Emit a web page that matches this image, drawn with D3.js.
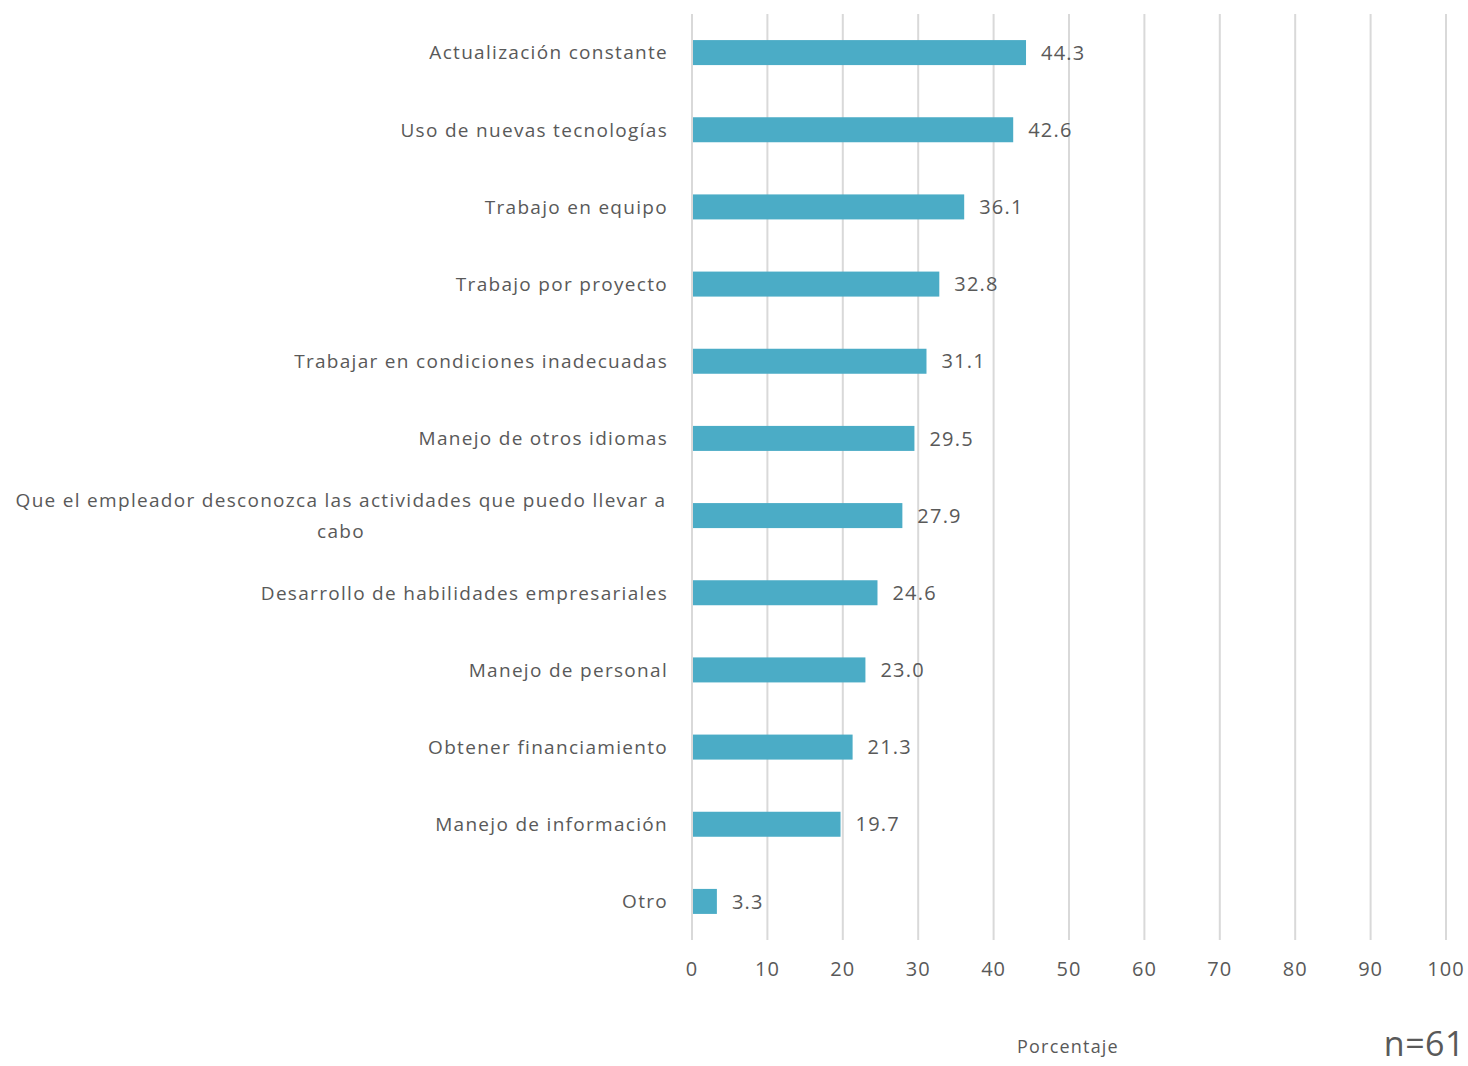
<!DOCTYPE html>
<html><head><meta charset="utf-8">
<script src="https://cdn.jsdelivr.net/npm/d3@7"></script>
<style>body{margin:0;background:#fff}svg{display:block}text{font-family:"Open Sans",sans-serif;fill:#595959}</style>
</head><body><svg id="c" width="1468" height="1066"></svg>
<script>
const categories = ["Actualización constante","Uso de nuevas tecnologías","Trabajo en equipo","Trabajo por proyecto","Trabajar en condiciones inadecuadas","Manejo de otros idiomas","Que el empleador desconozca las actividades que puedo llevar a cabo","Desarrollo de habilidades empresariales","Manejo de personal","Obtener financiamiento","Manejo de información","Otro"];
const values = [44.3,42.6,36.1,32.8,31.1,29.5,27.9,24.6,23.0,21.3,19.7,3.3];
const ticks = [0,10,20,30,40,50,60,70,80,90,100];
const axisTitle = "Porcentaje";
const note = "n=61";

const svg = d3.select("#c");
const x = d3.scaleLinear().domain([0,100]).range([692,1446]);
const y = d3.scaleBand().domain(categories).range([14,940]).paddingInner(0.676).paddingOuter(0.338);

svg.append("g").selectAll("line").data(ticks).join("line")
  .attr("x1",d=>x(d)).attr("x2",d=>x(d)).attr("y1",14).attr("y2",940)
  .attr("stroke","#d9d9d9").attr("stroke-width",2);

svg.append("g").selectAll("rect").data(values).join("rect")
  .attr("x",x(0)+1).attr("y",(d,i)=>y(categories[i]))
  .attr("width",d=>x(d)-x(0)-1).attr("height",y.bandwidth())
  .attr("fill","#4bacc6");

svg.append("g").selectAll("text").data(values).join("text")
  .attr("x",d=>x(d)+15).attr("y",(d,i)=>y(categories[i])+y.bandwidth()/2)
  .attr("dy","0.36em").attr("font-size",20).attr("letter-spacing",1.2).text(d=>d.toFixed(1));

svg.append("g").selectAll("text").data(ticks).join("text")
  .attr("x",d=>x(d)).attr("y",969).attr("dy","0.36em").attr("text-anchor","middle")
  .attr("font-size",20).attr("letter-spacing",1).text(d=>d);

const labG = svg.append("g");
const maxW = 655, right = 668;
categories.forEach(c=>{
  const cy = y(c)+y.bandwidth()/2;
  const t = labG.append("text").attr("font-size",19).attr("letter-spacing",1.3).attr("text-anchor","end").attr("x",right).attr("y",cy).attr("dy","0.36em").text(c);
  if (t.node().getComputedTextLength() > maxW) {
    const words = c.split(" ");
    let lines=[], cur="";
    words.forEach(w=>{
      const test = cur?cur+" "+w:w;
      t.text(test);
      if (t.node().getComputedTextLength()>maxW && cur){lines.push(cur);cur=w;} else cur=test;
    });
    lines.push(cur);
    t.text(null).attr("text-anchor","middle");
    const lh = 31;
    const cx = 341;
    lines.forEach((l,i)=>{
      t.append("tspan").attr("x",cx).attr("y",cy+(i-(lines.length-1)/2)*lh).attr("dy","0.36em").text(l);
    });
  }
});

svg.append("text").attr("x",1068).attr("y",1047).attr("dy","0.36em").attr("text-anchor","middle").attr("font-size",18).attr("letter-spacing",1.2).text(axisTitle);
svg.append("text").attr("x",1465).attr("y",1056).attr("text-anchor","end").attr("font-size",34).attr("letter-spacing",0.5).text(note);
</script></body></html>
